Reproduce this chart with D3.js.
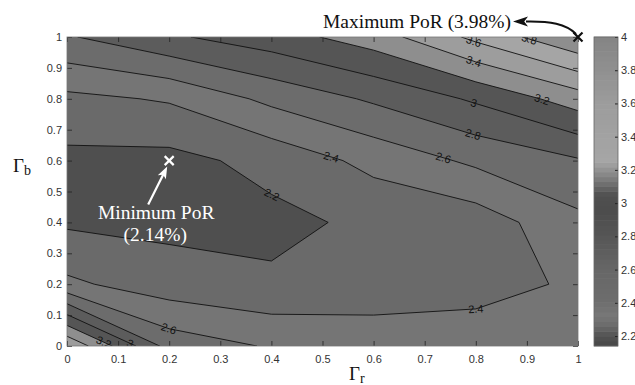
<!DOCTYPE html>
<html>
<head>
<meta charset="utf-8">
<script src="https://cdn.jsdelivr.net/npm/d3@7"></script>
<style>
  body { margin: 0; background: #fff; }
  svg { display: block; }
  .tick text { font-family: "Liberation Sans", Arial, sans-serif; font-size: 11px; fill: #333; }
</style>
</head>
<body>
<svg id="chart" width="635" height="385"></svg>
<script>
// Sample grid: Γr across, Γb upward
const gammaR = [0, 0.2, 0.4, 0.6, 0.8, 1.0];
const gammaB = [0, 0.2, 0.4, 0.6, 0.8, 1.0];

// PoR (%) on the grid, one row per Γb value, bottom row (Γb = 0) first
const porRow0 = [3.58, 2.72, 2.58, 2.55, 2.55, 2.50];
const porRow1 = [2.44, 2.29, 2.23, 2.25, 2.30, 2.44];
const porRow2 = [2.17, 2.15, 2.15, 2.24, 2.29, 2.55];
const porRow3 = [2.15, 2.14, 2.26, 2.46, 2.64, 2.78];
const porRow4 = [2.35, 2.42, 2.65, 2.83, 3.03, 3.30];
const porRow5 = [2.78, 2.97, 3.11, 3.30, 3.65, 3.98];
const porRows = [porRow0, porRow1, porRow2, porRow3, porRow4, porRow5];

// Contour levels and tick values
const levels = [2.2, 2.4, 2.6, 2.8, 3.0, 3.2, 3.4, 3.6, 3.8];
const xTicks = [0, 0.1, 0.2, 0.3, 0.4, 0.5, 0.6, 0.7, 0.8, 0.9, 1];
const yTicks = [0, 0.1, 0.2, 0.3, 0.4, 0.5, 0.6, 0.7, 0.8, 0.9, 1];
const cbarTicks = [2.2, 2.4, 2.6, 2.8, 3, 3.2, 3.4, 3.6, 3.8, 4];
const cbarRange = [2.14, 4.0];

// Extremes of the surface
const minPoint = { r: 0.2, b: 0.6, value: 2.14 };
const maxPoint = { r: 1.0, b: 1.0, value: 3.98 };

// Inline contour labels: level and where along the line it sits
const labelLevels = [3.6, 3.8, 3.4, 3.0, 3.2, 2.8, 2.6, 2.4, 2.4, 2.2, 2.6, 3.2, 3.0];
const labelAtR   = [0.797, 0.904, 0.797, 0.797, 0.93, 0.793, 0.734, 0.514, 0.80, 0.395, 0.197, 0.074, 0.127];
const labelAtB   = [0.99, 0.99, 0.926, 0.79, 0.80, 0.676, 0.595, 0.595, 0.12, 0.47, 0.046, 0.02, 0.02];

// Gray fills of the bands: below the first level, then one per level
const bandFill = ['#4f4f4f', '#6a6a6a', '#757575', '#6c6c6c', '#5c5c5c',
                  '#555555', '#8e8e8e', '#9d9d9d', '#a5a5a5', '#8e8e8e'];
// Colour-bar gray ramp (value, gray level)
const rampValues = [2.14, 2.2, 2.26, 2.32, 2.4, 2.6, 2.8, 2.95, 3.05, 3.15, 3.25, 3.4, 3.6, 3.8, 4.0];
const rampGrays  = [0x48, 0x52, 0x6a, 0x78, 0x6e, 0x67, 0x56, 0x4c, 0x50, 0x80, 0xa6, 0xa2, 0x9c, 0x90, 0x84];

const svg = d3.select('#chart');
const plot = { left: 67, right: 578, top: 37, bottom: 346 };
const x = d3.scaleLinear().domain([0, 1]).range([plot.left, plot.right]);
const y = d3.scaleLinear().domain([0, 1]).range([plot.bottom, plot.top]);

svg.append('defs').append('clipPath').attr('id', 'plotClip')
  .append('rect')
  .attr('x', plot.left).attr('y', plot.top)
  .attr('width', plot.right - plot.left).attr('height', plot.bottom - plot.top);

// Contours (marching squares on the grid, linear interpolation)
const nx = gammaR.length, ny = gammaB.length;
const values = porRows.flat();
const contours = d3.contours().size([nx, ny]).thresholds(levels)(values);
const gx = d3.scaleLinear().domain([0.5, nx - 0.5]).range([x(gammaR[0]), x(gammaR[nx - 1])]);
const gy = d3.scaleLinear().domain([0.5, ny - 0.5]).range([y(gammaB[0]), y(gammaB[ny - 1])]);
const path = d3.geoPath(d3.geoTransform({
  point(px, py) { this.stream.point(gx(px), gy(py)); }
}));

const field = svg.append('g').attr('clip-path', 'url(#plotClip)');
field.append('rect')
  .attr('x', plot.left).attr('y', plot.top)
  .attr('width', plot.right - plot.left).attr('height', plot.bottom - plot.top)
  .attr('fill', bandFill[0]);
field.selectAll('path.band').data(contours).join('path')
  .attr('class', 'band')
  .attr('d', path)
  .attr('fill', (d, i) => bandFill[i + 1])
  .attr('fill-rule', 'evenodd');
field.selectAll('path.iso').data(contours).join('path')
  .attr('class', 'iso')
  .attr('d', path)
  .attr('fill', 'none')
  .attr('stroke', '#111')
  .attr('stroke-width', 0.9);

// Contour labels, rotated along the nearest stretch of their line
function labelSpot(level, r, b) {
  const c = contours.find(d => Math.abs(d.value - level) < 1e-9);
  const ax = x(r), ay = y(b);
  let best = null;
  c.coordinates.forEach(poly => poly.forEach(ring => {
    for (let i = 0; i < ring.length - 1; i++) {
      const p0 = [gx(ring[i][0]), gy(ring[i][1])];
      const p1 = [gx(ring[i + 1][0]), gy(ring[i + 1][1])];
      const mx = (p0[0] + p1[0]) / 2, my = (p0[1] + p1[1]) / 2;
      if (mx < plot.left || mx > plot.right || my < plot.top || my > plot.bottom) continue;
      const dx = p1[0] - p0[0], dy = p1[1] - p0[1];
      const len2 = dx * dx + dy * dy;
      if (len2 === 0) continue;
      let t = ((ax - p0[0]) * dx + (ay - p0[1]) * dy) / len2;
      t = Math.max(0, Math.min(1, t));
      const qx = p0[0] + t * dx, qy = p0[1] + t * dy;
      const dist = Math.hypot(qx - ax, qy - ay);
      if (!best || dist < best.dist) {
        let ang = Math.atan2(dy, dx) * 180 / Math.PI;
        if (ang > 90) ang -= 180;
        if (ang < -90) ang += 180;
        best = { x: qx, y: qy, ang, dist };
      }
    }
  }));
  return best;
}
const labelData = labelLevels.map((lv, i) => ({ level: lv, spot: labelSpot(lv, labelAtR[i], labelAtB[i]) }))
  .filter(d => d.spot);
svg.append('g').attr('clip-path', 'url(#plotClip)')
  .selectAll('text').data(labelData).join('text')
  .attr('transform', d => `translate(${d.spot.x},${d.spot.y}) rotate(${d.spot.ang})`)
  .attr('text-anchor', 'middle')
  .attr('dy', '0.35em')
  .attr('font-family', 'Liberation Sans, Arial, sans-serif')
  .attr('font-size', 11)
  .attr('fill', '#111')
  .text(d => String(+d.level.toFixed(1)));

// Axes: inward ticks on all four sides
const fmt = d => String(d);
const axB = svg.append('g').attr('transform', `translate(0,${plot.bottom})`)
  .call(d3.axisBottom(x).tickValues(xTicks).tickFormat(fmt).tickSize(-5).tickPadding(9));
const axT = svg.append('g').attr('transform', `translate(0,${plot.top})`)
  .call(d3.axisTop(x).tickValues(xTicks).tickFormat('').tickSize(-5));
const axL = svg.append('g').attr('transform', `translate(${plot.left},0)`)
  .call(d3.axisLeft(y).tickValues(yTicks).tickFormat(fmt).tickSize(-5).tickPadding(5));
const axR = svg.append('g').attr('transform', `translate(${plot.right},0)`)
  .call(d3.axisRight(y).tickValues(yTicks).tickFormat('').tickSize(-5));
[axB, axT, axL, axR].forEach(g => {
  g.select('.domain').remove();
  g.selectAll('.tick line').attr('stroke', '#222').attr('stroke-width', 0.8);
});
svg.append('rect')
  .attr('x', plot.left).attr('y', plot.top)
  .attr('width', plot.right - plot.left).attr('height', plot.bottom - plot.top)
  .attr('fill', 'none').attr('stroke', '#777').attr('stroke-width', 0.8);

// Axis titles
function gammaTitle(tx, ty, sub) {
  const t = svg.append('text').attr('x', tx).attr('y', ty)
    .attr('font-family', 'Liberation Serif, Times New Roman, serif')
    .attr('font-size', 19).attr('fill', '#111');
  t.append('tspan').text('Γ');
  t.append('tspan').attr('font-size', 14).attr('dy', 3).text(sub);
}
gammaTitle(349, 380, 'r');
gammaTitle(13, 172, 'b');

// Colour bar
const cbar = { left: 594, right: 618 };
const cy = d3.scaleLinear().domain(cbarRange).range([plot.bottom, plot.top]);
const ramp = d3.scaleLinear().domain(rampValues).range(rampGrays).clamp(true);
const steps = 64;
const stepVals = d3.range(steps).map(i => cbarRange[0] + (i + 0.5) * (cbarRange[1] - cbarRange[0]) / steps);
const stepH = (plot.bottom - plot.top) / steps;
svg.append('g').selectAll('rect').data(stepVals).join('rect')
  .attr('x', cbar.left)
  .attr('y', d => cy(d) - stepH / 2 - 0.3)
  .attr('width', cbar.right - cbar.left)
  .attr('height', stepH + 0.6)
  .attr('fill', d => { const g = Math.round(ramp(d)); return `rgb(${g},${g},${g})`; });
const axC = svg.append('g').attr('transform', `translate(${cbar.right},0)`)
  .call(d3.axisRight(cy).tickValues(cbarTicks).tickFormat(fmt).tickSize(-3).tickPadding(3));
axC.select('.domain').remove();
axC.selectAll('.tick line').attr('stroke', '#222');
axC.selectAll('.tick text').attr('font-size', 10);
svg.append('rect')
  .attr('x', cbar.left).attr('y', plot.top)
  .attr('width', cbar.right - cbar.left).attr('height', plot.bottom - plot.top)
  .attr('fill', 'none').attr('stroke', '#666').attr('stroke-width', 0.8);

// Extremes: crosses, arrows and captions
function cross(cx, cyy, color) {
  const s = 4.5;
  svg.append('path')
    .attr('d', `M${cx - s},${cyy - s}L${cx + s},${cyy + s}M${cx - s},${cyy + s}L${cx + s},${cyy - s}`)
    .attr('stroke', color).attr('stroke-width', 2.2).attr('fill', 'none');
}
function arrowHead(tip, dir, len, half, color) {
  const ux = dir[0], uy = dir[1];
  const bx = tip[0] - ux * len, by = tip[1] - uy * len;
  const nx2 = -uy, ny2 = ux;
  const notchX = tip[0] - ux * len * 0.75, notchY = tip[1] - uy * len * 0.75;
  svg.append('path')
    .attr('d', `M${tip[0]},${tip[1]}L${bx + nx2 * half},${by + ny2 * half}L${notchX},${notchY}L${bx - nx2 * half},${by - ny2 * half}Z`)
    .attr('fill', color);
}

const minPx = [x(minPoint.r), y(minPoint.b)];
const maxPx = [x(maxPoint.r), y(maxPoint.b)];

// minimum
cross(minPx[0], minPx[1], '#fff');
{
  const tail = [minPx[0] - 21, minPx[1] + 44];
  const tip = [minPx[0] - 2, minPx[1] + 6];
  const L = Math.hypot(tip[0] - tail[0], tip[1] - tail[1]);
  const u = [(tip[0] - tail[0]) / L, (tip[1] - tail[1]) / L];
  svg.append('line')
    .attr('x1', tail[0]).attr('y1', tail[1])
    .attr('x2', tip[0] - u[0] * 8).attr('y2', tip[1] - u[1] * 8)
    .attr('stroke', '#fff').attr('stroke-width', 2.2);
  arrowHead(tip, u, 12, 4.5, '#fff');
}
const minText = svg.append('text')
  .attr('text-anchor', 'middle')
  .attr('font-family', 'Liberation Serif, Times New Roman, serif')
  .attr('font-size', 19.5).attr('fill', '#fff');
minText.append('tspan').attr('x', minPx[0] - 13).attr('y', minPx[1] + 58).text('Minimum PoR');
minText.append('tspan').attr('x', minPx[0] - 14).attr('y', minPx[1] + 80)
  .text(`(${minPoint.value.toFixed(2)}%)`);

// maximum
cross(maxPx[0], maxPx[1], '#111');
svg.append('path')
  .attr('d', `M${maxPx[0] - 2},${maxPx[1] - 3} C${maxPx[0] - 12},${maxPx[1] - 13} ${maxPx[0] - 28},${maxPx[1] - 16} ${maxPx[0] - 52},${maxPx[1] - 15.5}`)
  .attr('fill', 'none').attr('stroke', '#111').attr('stroke-width', 2);
arrowHead([maxPx[0] - 65, maxPx[1] - 15.5], [-1, 0], 15, 5, '#111');
svg.append('text')
  .attr('x', maxPx[0] - 67).attr('y', maxPx[1] - 9)
  .attr('text-anchor', 'end')
  .attr('font-family', 'Liberation Serif, Times New Roman, serif')
  .attr('font-size', 19.5).attr('fill', '#111')
  .text(`Maximum PoR (${maxPoint.value.toFixed(2)}%)`);
</script>
</body>
</html>
